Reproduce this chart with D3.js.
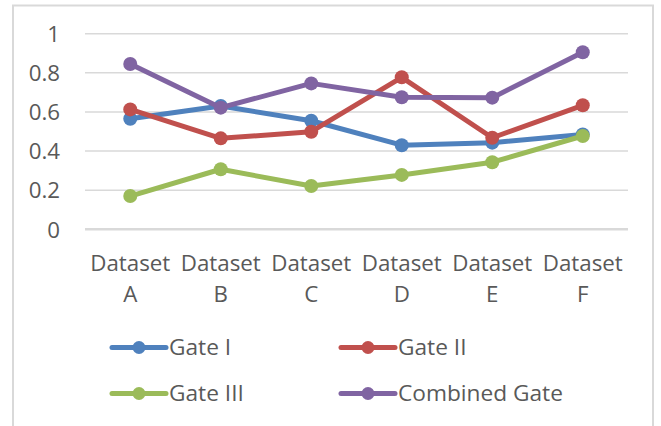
<!DOCTYPE html>
<html>
<head>
<meta charset="utf-8">
<script src="https://cdn.jsdelivr.net/npm/d3@7"></script>
<style>
  html, body { margin: 0; padding: 0; background: #fff; }
  svg { display: block; font-family: "Open Sans", "Noto Sans", sans-serif; }
</style>
</head>
<body>
<svg id="chart" width="661" height="426"></svg>
<script>
// Categories along the x axis (two-line labels)
const categories = ["Dataset A", "Dataset B", "Dataset C", "Dataset D", "Dataset E", "Dataset F"];

// Series values
const gate1    = [0.565, 0.63, 0.555, 0.43, 0.443, 0.485];
const gate2    = [0.613, 0.465, 0.499, 0.777, 0.468, 0.634];
const gate3    = [0.17, 0.307, 0.221, 0.278, 0.343, 0.477];
const combined = [0.845, 0.622, 0.746, 0.675, 0.673, 0.905];

const seriesNames  = ["Gate I", "Gate II", "Gate III", "Combined Gate"];
const seriesColors = ["#4f81bd", "#c0504d", "#9bbb59", "#8064a2"];

// Y tick labels
const yTicks = [0, 0.2, 0.4, 0.6, 0.8, 1];

const series = [gate1, gate2, gate3, combined].map((values, i) => ({
  name: seriesNames[i], color: seriesColors[i], values
}));

const svg = d3.select("#chart");
const plot = { left: 85, right: 628, top: 33.7, bottom: 229.3 };
const textColor = "#595959";
const axisFont = 22.3;
const legendFont = 22.7;

// Chart frame
svg.append("rect")
  .attr("x", 13).attr("y", 5.5)
  .attr("width", 640).attr("height", 440)
  .attr("fill", "none").attr("stroke", "#d9d9d9").attr("stroke-width", 2);

const x = d3.scaleBand().domain(categories).range([plot.left, plot.right]);
const y = d3.scaleLinear().domain([0, 1]).range([plot.bottom, plot.top]);

// Horizontal gridlines
svg.append("g").selectAll("line").data(yTicks).join("line")
  .attr("x1", plot.left).attr("x2", plot.right)
  .attr("y1", d => y(d)).attr("y2", d => y(d))
  .attr("stroke", "#d9d9d9")
  .attr("stroke-width", d => d === 0 ? 2.5 : 1.5);

// Y axis labels
const yAxis = d3.axisLeft(y).tickValues(yTicks).tickSize(0).tickPadding(0)
  .tickFormat(d => d3.format("")(d));
const gy = svg.append("g").attr("transform", "translate(60,0)").call(yAxis);
gy.select(".domain").remove();
gy.selectAll("text")
  .attr("fill", textColor).attr("font-size", axisFont)
  .attr("font-family", "'Open Sans', 'Noto Sans', sans-serif")
  .attr("dy", "0.35em");

// X axis labels, split onto two lines
const xAxis = d3.axisBottom(x).tickSize(0).tickFormat("");
const gx = svg.append("g").attr("transform", `translate(0,${plot.bottom})`).call(xAxis);
gx.select(".domain").remove();
gx.selectAll(".tick").each(function(d) {
  const parts = d.split(" ");
  const t = d3.select(this).append("text")
    .attr("fill", textColor).attr("font-size", axisFont)
    .attr("text-anchor", "middle")
    .attr("font-family", "'Open Sans', 'Noto Sans', sans-serif");
  t.append("tspan").attr("x", 0).attr("y", 41.5).text(parts[0]);
  t.append("tspan").attr("x", 0).attr("y", 73).text(parts[1]);
});

// Lines and markers
const line = d3.line()
  .x((d, i) => x(categories[i]) + x.bandwidth() / 2)
  .y(d => y(d));

const gSeries = svg.append("g").selectAll("g").data(series).join("g");
gSeries.append("path")
  .attr("d", d => line(d.values))
  .attr("fill", "none").attr("stroke", d => d.color)
  .attr("stroke-width", 5).attr("stroke-linejoin", "round").attr("stroke-linecap", "round");
gSeries.each(function(s) {
  d3.select(this).selectAll("circle").data(s.values).join("circle")
    .attr("cx", (d, i) => x(categories[i]) + x.bandwidth() / 2)
    .attr("cy", d => y(d))
    .attr("r", 7)
    .attr("fill", s.color);
});

// Legend
const legendPos = [[112, 347.5], [341, 347.5], [112, 393.5], [341, 393.5]];
const lg = svg.append("g").selectAll("g").data(series).join("g")
  .attr("transform", (d, i) => `translate(${legendPos[i][0]},${legendPos[i][1]})`);
lg.append("line").attr("x1", 0).attr("x2", 54).attr("y1", 0).attr("y2", 0)
  .attr("stroke", d => d.color).attr("stroke-width", 5).attr("stroke-linecap", "round");
lg.append("circle").attr("cx", 27).attr("cy", 0).attr("r", 6.5).attr("fill", d => d.color);
lg.append("text").attr("x", 57).attr("y", 0).attr("dy", "0.35em")
  .attr("fill", textColor).attr("font-size", legendFont)
  .text(d => d.name);
</script>
</body>
</html>
